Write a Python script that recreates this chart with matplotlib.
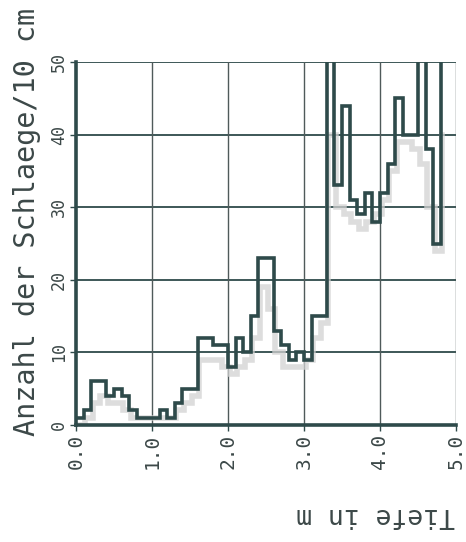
import matplotlib
matplotlib.use("Agg")
import matplotlib.pyplot as plt

# depth (m) of the top of each 10 cm interval
depth = [0.0, 0.1, 0.2, 0.3, 0.4, 0.5, 0.6, 0.7, 0.8, 0.9,
         1.0, 1.1, 1.2, 1.3, 1.4, 1.5, 1.6, 1.7, 1.8, 1.9,
         2.0, 2.1, 2.2, 2.3, 2.4, 2.5, 2.6, 2.7, 2.8, 2.9,
         3.0, 3.1, 3.2, 3.3, 3.4, 3.5, 3.6, 3.7, 3.8, 3.9,
         4.0, 4.1, 4.2, 4.3, 4.4, 4.5, 4.6, 4.7, 4.8]

# blows per 10 cm, main sounding (values > 50 are off scale)
blows_main = [1, 2, 6, 6, 4, 5, 4, 2, 1, 1,
              1, 2, 1, 3, 5, 5, 12, 12, 11, 11,
              8, 12, 10, 15, 23, 23, 13, 11, 9, 10,
              9, 15, 15, 60, 33, 44, 31, 29, 32, 28,
              32, 36, 45, 40, 40, 60, 38, 25, 60]

# second (faint grey) sounding
blows_second = [0, 1, 3, 4, 3, 3, 2, 1, 1, 1,
                1, 1, 1, 2, 3, 4, 9, 9, 9, 8,
                7, 8, 9, 12, 19, 16, 10, 8, 8, 8,
                9, 12, 14, 40, 30, 29, 28, 27, 28, 29,
                31, 35, 39, 39, 38, 36, 30, 24, 40]

x_ticks = [0.0, 1.0, 2.0, 3.0, 4.0, 5.0]
x_ticklabels = ["0.0", "1.0", "2.0", "3.0", "4.0", "5.0"]
y_ticks = [0, 10, 20, 30, 40, 50]
y_ticklabels = ["0", "10", "20", "30", "40", "50"]

dark = "#2e4a4a"
text_c = "#3c4848"

fig = plt.figure(figsize=(4.66, 5.42), dpi=100)
fig.patch.set_facecolor("white")
ax = fig.add_axes([76/466, 1-425/542, 380/466, 363/542])

ax.step([d + 0.02 for d in depth], blows_second, where="post",
        color="#d2d2d2", lw=4, alpha=0.75, zorder=2, solid_joinstyle="miter")
ax.step(depth, blows_main, where="post", color=dark, lw=2.6, zorder=3,
        solid_joinstyle="miter")

ax.set_xlim(0, 5)
ax.set_ylim(0, 50)

for v in [10, 20, 30, 40, 50]:
    ax.axhline(v, color=dark, lw=1.3, zorder=1)
for v in [1, 2, 3, 4, 5]:
    ax.axvline(v, color="#4f5a5a", lw=1.0, zorder=1)

for s in ["top", "right"]:
    ax.spines[s].set_visible(False)
ax.spines["left"].set_color(dark)
ax.spines["left"].set_linewidth(2.6)
ax.spines["bottom"].set_color(dark)
ax.spines["bottom"].set_linewidth(2.6)

mono = "DejaVu Sans Mono"
ax.set_xticks(x_ticks)
ax.set_xticklabels(x_ticklabels, rotation=90, fontsize=14, family=mono,
                   color=text_c, va="top", ha="center")
ax.set_yticks(y_ticks)
ax.set_yticklabels(y_ticklabels, rotation=90, fontsize=12, family=mono,
                   color=text_c, va="center", ha="right")
ax.tick_params(axis="x", length=4, width=1, color=dark, pad=2)
ax.tick_params(axis="y", length=4, width=1, color=dark, pad=2)

fig.text(27/466, 1-222/542, "Anzahl der Schlaege/10 cm", rotation=90,
         fontsize=20.5, family=mono, color=text_c, ha="center", va="center")
fig.text(376/466, 1-515/542, "Tiefe in m", rotation=180,
         fontsize=19, family=mono, color=text_c, ha="center", va="center")

fig.savefig("out.png", dpi=100, facecolor="white")
